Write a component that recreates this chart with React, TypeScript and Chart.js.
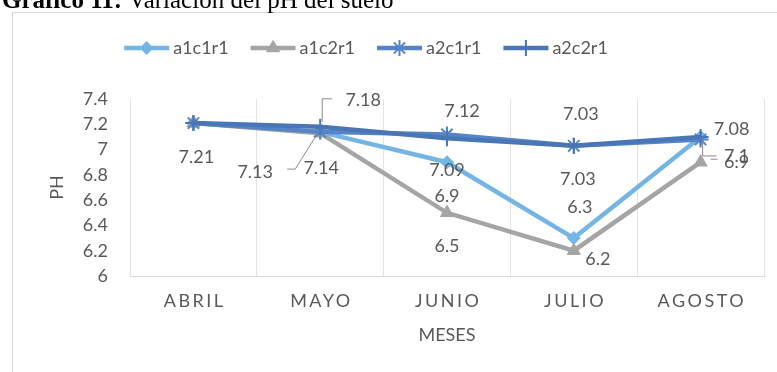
import React, { useEffect, useRef } from "react";
import { Chart, registerables } from "chart.js";
import { drawPoint } from "chart.js/helpers";

Chart.register(...registerables);

// ---- data ----
const categories = ["ABRIL", "MAYO", "JUNIO", "JULIO", "AGOSTO"];
const seriesNames = ["a1c1r1", "a1c2r1", "a2c1r1", "a2c2r1"];
const a1c1r1 = [7.21, 7.14, 6.9, 6.3, 7.1];
const a1c2r1 = [7.21, 7.13, 6.5, 6.2, 6.9];
const a2c1r1 = [7.21, 7.14, 7.12, 7.03, 7.08];
const a2c2r1 = [7.21, 7.18, 7.09, 7.03, 7.1];
const yMin = 6;
const yMax = 7.4;
const yStep = 0.2;
const titleBold = "Gráfico 11:";
const titleRest = "Variación del pH del suelo";
const xTitle = "MESES";
const yTitle = "PH";

// ---- styles ----
const colors = ["#74b5e6", "#a5a5a5", "#5585c6", "#4a76b6"];
const pointStyles = ["rectRot", "triangle", "star", "cross"];
const pointRadii = [6.5, 7.5, 8, 8];
const pointBorders = [1, 1, 2, 2];
const FONT = "Lato, 'Open Sans', sans-serif";
const TEXT = "#595959";

// label offsets [dx, dy] relative to the point, null = no label
const labelOffsets: (number[] | null)[][] = [
  [null, [1, 36], [0, 34], [6, -31], [36, 19]],
  [null, [-65, 39], [0, 33], [24, 8], [36, 0]],
  [null, null, [15, -23], [7, -32], [31, -10]],
  [[3, 34], [43, -27], [0, 32], [4, 33], null],
];
// leader polylines relative to point
const leaders: (number[][] | null)[][] = [
  [null, null, null, null, [[2, 4], [2, 19], [16, 19]]],
  [null, [[-5, 4], [-25, 36], [-33, 36]], null, null, [[10, -3], [17, -3]]],
  [null, null, null, null, null],
  [null, [[2, -5], [2, -28], [12, -28]], null, null, null],
];

const seriesData = [a1c1r1, a1c2r1, a2c1r1, a2c2r1];

const fmt = (v: number) => String(Number(v.toFixed(2)));

const decorPlugin = {
  id: "decor",
  beforeDraw(chart: any) {
    const ctx = chart.ctx;
    ctx.save();
    ctx.fillStyle = "#ffffff";
    ctx.fillRect(0, 0, chart.width, chart.height);
    // outer frame
    ctx.strokeStyle = "#d9d9d9";
    ctx.lineWidth = 1;
    ctx.strokeRect(12.5, 12.5, 820, 420);
    // title (cropped at top)
    ctx.fillStyle = "#000000";
    ctx.textBaseline = "alphabetic";
    ctx.textAlign = "left";
    ctx.font = "bold 25px 'Liberation Serif', 'Times New Roman', serif";
    ctx.fillText(titleBold, 2, 8);
    const w = ctx.measureText(titleBold + " ").width;
    ctx.font = "25px 'Liberation Serif', 'Times New Roman', serif";
    ctx.fillText(titleRest, 2 + w, 8);
    ctx.restore();
  },
  afterDatasetsDraw(chart: any) {
    const ctx = chart.ctx;
    ctx.save();
    ctx.font = "18px " + FONT;
    ctx.fillStyle = TEXT;
    ctx.textAlign = "center";
    ctx.textBaseline = "middle";
    seriesData.forEach((arr, i) => {
      const meta = chart.getDatasetMeta(i);
      arr.forEach((v, j) => {
        const off = labelOffsets[i][j];
        const pt = meta.data[j];
        if (!off || !pt) return;
        const ld = leaders[i][j];
        if (ld) {
          ctx.strokeStyle = "#8c8c8c";
          ctx.lineWidth = 1;
          ctx.beginPath();
          ld.forEach((p, k) => {
            if (k === 0) ctx.moveTo(pt.x + p[0], pt.y + p[1]);
            else ctx.lineTo(pt.x + p[0], pt.y + p[1]);
          });
          ctx.stroke();
        }
        ctx.fillText(fmt(v), pt.x + off[0], pt.y + off[1]);
      });
    });
    ctx.restore();
  },
  afterDraw(chart: any) {
    const ctx = chart.ctx;
    const area = chart.chartArea;
    const xs = chart.scales.x;
    ctx.save();
    ctx.fillStyle = TEXT;
    ctx.font = "18px " + FONT;
    ctx.textBaseline = "middle";
    // x category labels with letter spacing
    const ls = 2.5;
    (ctx as any).letterSpacing = ls + "px";
    ctx.textAlign = "center";
    categories.forEach((c, i) => {
      const x = xs.getPixelForValue(i);
      ctx.fillText(c, x + ls / 2, 301);
    });
    (ctx as any).letterSpacing = "0px";
    // axis titles
    ctx.fillText(xTitle, (area.left + area.right) / 2, 335);
    ctx.save();
    ctx.translate(57, (area.top + area.bottom) / 2);
    ctx.rotate(-Math.PI / 2);
    ctx.fillText(yTitle, 0, 0);
    ctx.restore();
    // legend
    const lineLen = 45;
    const gapText = 4;
    const gapItem = 22;
    const widths = seriesNames.map((n) => lineLen + gapText + ctx.measureText(n).width);
    const total = widths.reduce((a, b) => a + b, 0) + gapItem * (seriesNames.length - 1);
    let x = 366 - total / 2;
    const y = 48;
    seriesNames.forEach((n, i) => {
      ctx.strokeStyle = colors[i];
      ctx.lineWidth = 4.5;
      ctx.beginPath();
      ctx.moveTo(x, y);
      ctx.lineTo(x + lineLen, y);
      ctx.stroke();
      ctx.fillStyle = colors[i];
      ctx.lineWidth = pointBorders[i];
      drawPoint(ctx, { pointStyle: pointStyles[i], radius: pointRadii[i], rotation: 0, borderWidth: pointBorders[i] } as any, x + lineLen / 2, y);
      ctx.fillStyle = TEXT;
      ctx.textAlign = "left";
      ctx.fillText(n, x + lineLen + gapText, y);
      x += widths[i] + gapItem;
    });
    ctx.restore();
  },
};

export default function App() {
  const ref = useRef<HTMLCanvasElement | null>(null);
  useEffect(() => {
    if (!ref.current) return;
    const chart = new Chart(ref.current, {
      type: "line",
      data: {
        labels: categories,
        datasets: seriesNames.map((n, i) => ({
          label: n,
          data: seriesData[i],
          borderColor: colors[i],
          backgroundColor: colors[i],
          borderWidth: 4.5,
          pointStyle: pointStyles[i] as any,
          pointRadius: pointRadii[i],
          pointBorderWidth: pointBorders[i],
          pointBorderColor: colors[i],
          pointBackgroundColor: colors[i],
          tension: 0,
          order: seriesNames.length - i,
        })),
      },
      options: {
        responsive: false,
        animation: false,
        layout: { padding: { left: 0, right: 13, top: 99, bottom: 0 } },
        plugins: { legend: { display: false }, title: { display: false }, tooltip: { enabled: false } },
        scales: {
          x: {
            type: "category",
            offset: true,
            grid: { display: true, offset: true, color: "#e3e3e3", lineWidth: 1, drawTicks: false },
            border: { display: true, color: "#d9d9d9" },
            ticks: { display: false },
            afterFit: (s: any) => {
              s.height = 96;
            },
          },
          y: {
            min: yMin,
            max: yMax,
            grid: { display: false, drawTicks: false },
            border: { display: false },
            ticks: {
              stepSize: yStep,
              padding: 22,
              color: TEXT,
              font: { family: FONT, size: 18 },
              callback: (v: any) => fmt(Number(v)),
            },
            afterFit: (s: any) => {
              s.width = 130;
            },
          },
        },
      },
      plugins: [decorPlugin],
    });
    return () => chart.destroy();
  }, []);
  return (
    <canvas
      ref={ref}
      width={777}
      height={372}
      style={{ position: "fixed", left: 0, top: 0, width: 777, height: 372 }}
    />
  );
}
